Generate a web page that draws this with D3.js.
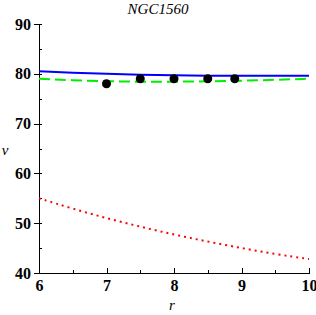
<!DOCTYPE html>
<meta charset="utf-8">
<style>
    body { margin: 0; background: #fff; }
    .axis path, .axis line { stroke: #000; shape-rendering: crispEdges; }
    .axis text { font: bold 16px "Liberation Serif", serif; fill: #000; }
    .lbl { font: italic 15px "Liberation Serif", serif; }
</style>
<body>
<script src="https://d3js.org/d3.v7.min.js"></script>
<script>

    var rGrid = [6, 6.5, 7, 7.5, 8, 8.5, 9, 9.5, 10];
    var vTotal = [80.5, 80.2, 80.0, 79.8, 79.7, 79.6, 79.6, 79.6, 79.6];
    var vDark = [79.0, 78.7, 78.5, 78.4, 78.4, 78.5, 78.6, 78.8, 79.0];
    var vBaryon = [55.0, 52.9, 51.0, 49.3, 47.7, 46.3, 45.0, 43.8, 42.8];
    var obsR = [7, 7.5, 8, 8.5, 8.9];
    var obsV = [78, 79, 79, 79, 79];

    var width = 316, height = 315;
    var x = d3.scaleLinear().domain([6, 10]).range([39, 309]);
    var y = d3.scaleLinear().domain([40, 90]).range([273, 24]);

    var svg = d3.select("body").append("svg")
        .attr("width", width)
        .attr("height", height);

    // minor ticks
    svg.append("g").attr("class", "axis")
        .attr("transform", "translate(0," + y(40) + ")")
        .call(d3.axisBottom(x).tickValues(d3.range(6, 10.01, 0.5)).tickSize(0).tickFormat(""))
        .call(function(g) { g.selectAll(".tick line").attr("y2", -3); });
    svg.append("g").attr("class", "axis")
        .attr("transform", "translate(0," + y(40) + ")")
        .call(d3.axisBottom(x).ticks(4).tickSize(-5).tickPadding(7).tickFormat(d3.format("d")))
        .call(function(g) { g.select(".domain").remove(); });

    svg.append("g").attr("class", "axis")
        .attr("transform", "translate(" + x(6) + ",0)")
        .call(d3.axisLeft(y).tickValues(d3.range(40, 90.01, 5)).tickSize(0).tickFormat(""))
        .call(function(g) { g.selectAll(".tick line").attr("x2", 3); });
    svg.append("g").attr("class", "axis")
        .attr("transform", "translate(" + x(6) + ",0)")
        .call(d3.axisLeft(y).tickValues([40, 50, 60, 70, 80, 90]).tickSize(5).tickPadding(3).tickFormat(d3.format("d")))
        .call(function(g) { g.select(".domain").remove(); });

    var line = function(vals) {
        return d3.line().curve(d3.curveBasis)
            .x(function(d, i) { return x(rGrid[i]); })
            .y(function(d) { return y(d); })(vals);
    };

    svg.append("path").attr("d", line(vBaryon))
        .attr("fill", "none").attr("stroke", "#ff0000").attr("stroke-width", 2)
        .attr("stroke-dasharray", "2,4");
    svg.append("path").attr("d", line(vDark))
        .attr("fill", "none").attr("stroke", "#00ee00").attr("stroke-width", 2)
        .attr("stroke-dasharray", "11,5");
    svg.append("path").attr("d", line(vTotal))
        .attr("fill", "none").attr("stroke", "#0000ff").attr("stroke-width", 2);

    svg.selectAll("circle.obs")
        .data(obsR)
        .enter().append("circle")
        .attr("class", "obs")
        .attr("cx", function(d) { return x(d); })
        .attr("cy", function(d, i) { return y(obsV[i]); })
        .attr("r", 4.5)
        .attr("fill", "#000");

    svg.append("text").attr("class", "lbl")
        .attr("x", 158).attr("y", 14)
        .attr("text-anchor", "middle")
        .text("NGC1560");
    svg.append("text").attr("class", "lbl")
        .attr("x", 172).attr("y", 310)
        .attr("text-anchor", "middle")
        .text("r");
    svg.append("text").attr("class", "lbl")
        .attr("x", 5).attr("y", 155)
        .attr("text-anchor", "middle")
        .text("v");

</script>
</body>
